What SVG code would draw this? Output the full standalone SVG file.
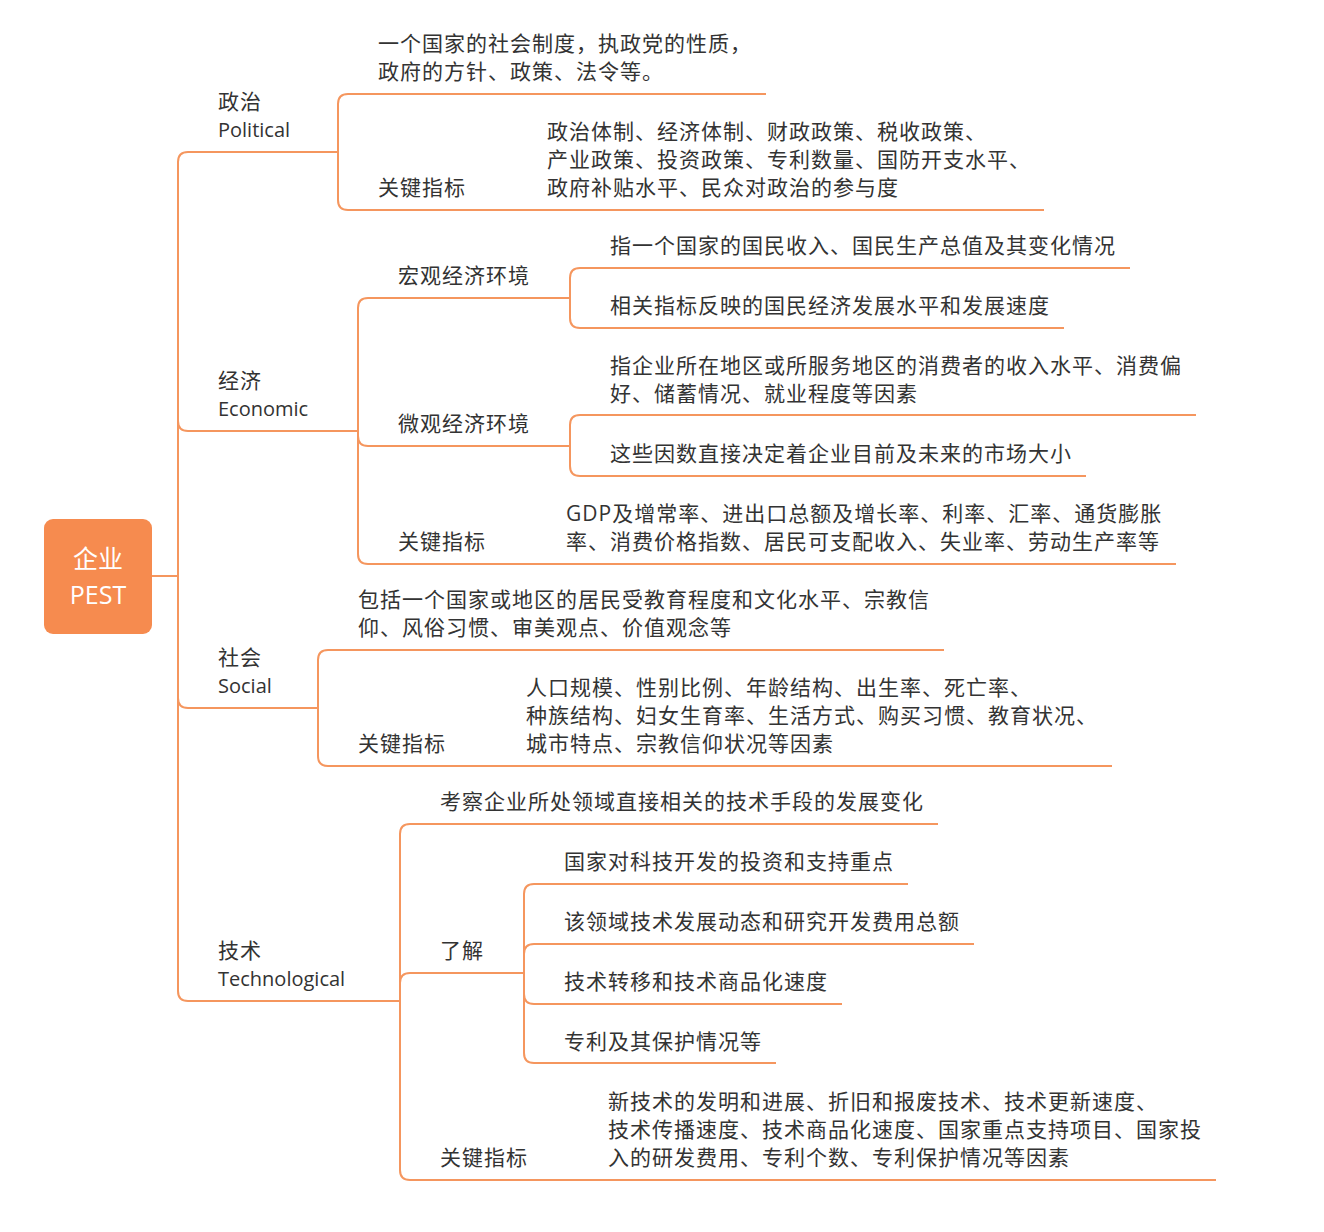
<svg xmlns="http://www.w3.org/2000/svg" width="1324" height="1232" viewBox="0 0 1324 1232">
<style>
.c{fill:none;stroke:#F5965E;stroke-width:2}
text{font-family:"Open Sans","Noto Sans CJK SC",sans-serif;font-size:21px;letter-spacing:1px;fill:#333}
.l{letter-spacing:0;font-size:20px}
.r{fill:#fff;font-size:25px;letter-spacing:0}
</style>
<rect width="1324" height="1232" fill="#fff"/>
<g id="connectors">
<path class="c" d="M152,576H178"/>
<path class="c" d="M178,576V162Q178,152 188,152H338"/>
<path class="c" d="M178,576V421Q178,431 188,431H358"/>
<path class="c" d="M178,576V698Q178,708 188,708H318"/>
<path class="c" d="M178,576V991Q178,1001 188,1001H400"/>
<path class="c" d="M338,152V104Q338,94 348,94H766"/>
<path class="c" d="M338,152V200Q338,210 348,210H1044"/>
<path class="c" d="M358,431V308Q358,298 368,298H570"/>
<path class="c" d="M358,431V436Q358,446 368,446H570"/>
<path class="c" d="M358,431V554Q358,564 368,564H1176"/>
<path class="c" d="M570,298V278Q570,268 580,268H1130"/>
<path class="c" d="M570,298V318Q570,328 580,328H1064"/>
<path class="c" d="M570,446V425Q570,415 580,415H1196"/>
<path class="c" d="M570,446V466Q570,476 580,476H1086"/>
<path class="c" d="M318,708V660Q318,650 328,650H944"/>
<path class="c" d="M318,708V756Q318,766 328,766H1112"/>
<path class="c" d="M400,1001V834Q400,824 410,824H938"/>
<path class="c" d="M400,1001V983Q400,973 410,973H524"/>
<path class="c" d="M400,1001V1170Q400,1180 410,1180H1216"/>
<path class="c" d="M524,973V894Q524,884 534,884H908"/>
<path class="c" d="M524,973V954Q524,944 534,944H974"/>
<path class="c" d="M524,973V994Q524,1004 534,1004H842"/>
<path class="c" d="M524,973V1053Q524,1063 534,1063H776"/>
</g>
<g id="root"><rect x="44" y="519" width="108" height="115" rx="9" fill="#F68B4F"/><text class="r" x="98" y="568" text-anchor="middle">企业</text><text class="r" x="98" y="604" text-anchor="middle">PEST</text></g>
<g id="political"><text x="218" y="109">政治</text><text class="l" x="218" y="137">Political</text>
<text x="378" y="51">一个国家的社会制度，执政党的性质，</text><text x="378" y="79">政府的方针、政策、法令等。</text>
<text x="378" y="195">关键指标</text><text x="547" y="139">政治体制、经济体制、财政政策、税收政策、</text><text x="547" y="167">产业政策、投资政策、专利数量、国防开支水平、</text><text x="547" y="195">政府补贴水平、民众对政治的参与度</text></g>
<g id="economic"><text x="218" y="388">经济</text><text class="l" x="218" y="416">Economic</text>
<text x="398" y="283">宏观经济环境</text><text x="610" y="253">指一个国家的国民收入、国民生产总值及其变化情况</text><text x="610" y="313">相关指标反映的国民经济发展水平和发展速度</text>
<text x="398" y="431">微观经济环境</text><text x="610" y="373">指企业所在地区或所服务地区的消费者的收入水平、消费偏</text><text x="610" y="401">好、储蓄情况、就业程度等因素</text><text x="610" y="461">这些因数直接决定着企业目前及未来的市场大小</text>
<text x="398" y="549">关键指标</text><text x="566" y="521">GDP及增常率、进出口总额及增长率、利率、汇率、通货膨胀</text><text x="566" y="549">率、消费价格指数、居民可支配收入、失业率、劳动生产率等</text></g>
<g id="social"><text x="218" y="665">社会</text><text class="l" x="218" y="693">Social</text>
<text x="358" y="607">包括一个国家或地区的居民受教育程度和文化水平、宗教信</text><text x="358" y="635">仰、风俗习惯、审美观点、价值观念等</text>
<text x="358" y="751">关键指标</text><text x="526" y="695">人口规模、性别比例、年龄结构、出生率、死亡率、</text><text x="526" y="723">种族结构、妇女生育率、生活方式、购买习惯、教育状况、</text><text x="526" y="751">城市特点、宗教信仰状况等因素</text></g>
<g id="tech"><text x="218" y="958">技术</text><text class="l" x="218" y="986">Technological</text>
<text x="440" y="809">考察企业所处领域直接相关的技术手段的发展变化</text>
<text x="440" y="958">了解</text><text x="564" y="869">国家对科技开发的投资和支持重点</text><text x="564" y="929">该领域技术发展动态和研究开发费用总额</text><text x="564" y="989">技术转移和技术商品化速度</text><text x="564" y="1049">专利及其保护情况等</text>
<text x="440" y="1165">关键指标</text><text x="608" y="1109">新技术的发明和进展、折旧和报废技术、技术更新速度、</text><text x="608" y="1137">技术传播速度、技术商品化速度、国家重点支持项目、国家投</text><text x="608" y="1165">入的研发费用、专利个数、专利保护情况等因素</text></g>
</svg>
